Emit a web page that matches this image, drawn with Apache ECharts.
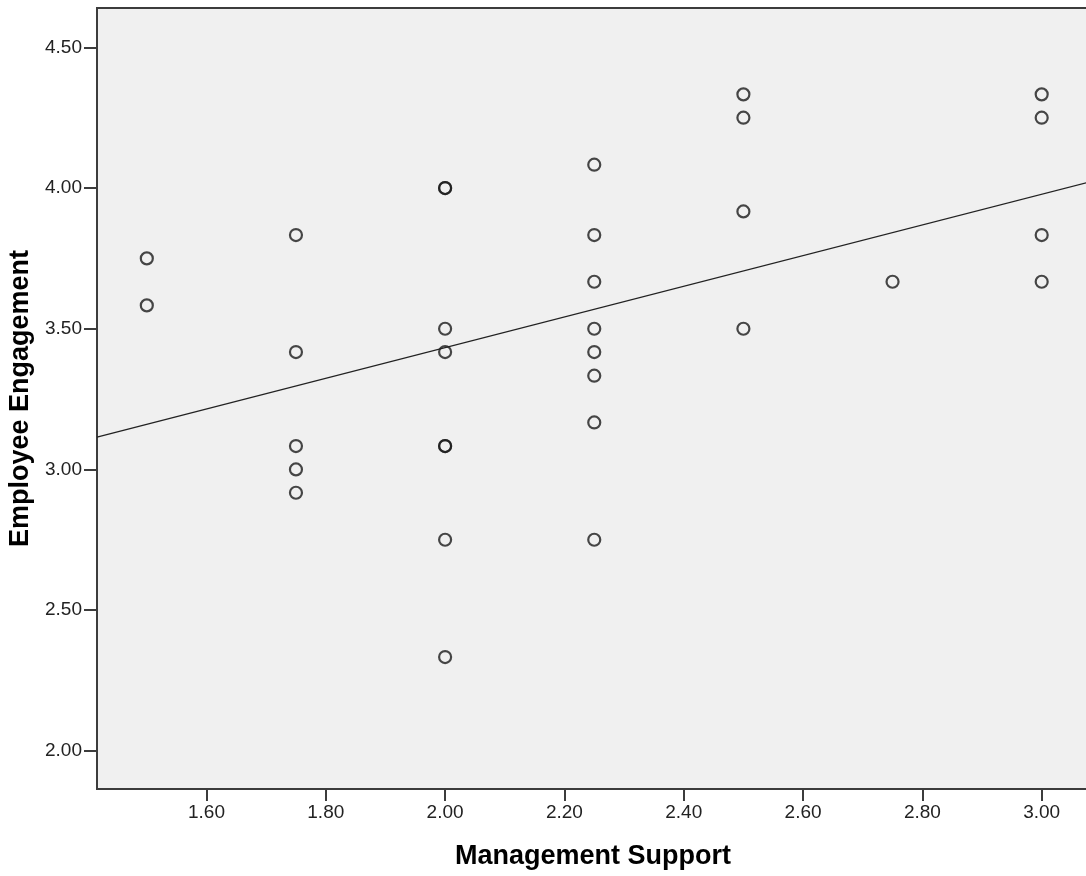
<!DOCTYPE html>
<html>
<head>
<meta charset="utf-8">
<script src="https://cdn.jsdelivr.net/npm/echarts@6/dist/echarts.min.js"></script>
<style>
  html, body { margin: 0; padding: 0; background: #fff; }
  #chart { width: 1086px; height: 876px; }
</style>
</head>
<body>
<div id="chart"></div>
<script>
// management support (x) / employee engagement (y)
const supportVals = [
  1.5, 1.5,
  1.75, 1.75, 1.75, 1.75, 1.75,
  2.0, 2.0, 2.0, 2.0, 2.0, 2.0, 2.0, 2.0,
  2.25, 2.25, 2.25, 2.25, 2.25, 2.25, 2.25, 2.25,
  2.5, 2.5, 2.5, 2.5,
  2.75,
  3.0, 3.0, 3.0, 3.0
]
const engagementVals = [
  3.75, 3.583,
  3.833, 3.417, 3.083, 3.0, 2.917,
  4.0, 4.0, 3.5, 3.417, 3.083, 3.083, 2.75, 2.333,
  4.083, 3.833, 3.667, 3.5, 3.417, 3.333, 3.167, 2.75,
  4.333, 4.25, 3.917, 3.5,
  3.667,
  4.333, 4.25, 3.833, 3.667
]
// fit line end points (x, y)
const fitX = [1.4165, 3.0793]
const fitY = [3.115, 4.021]

const xTicks = [1.6, 1.8, 2.0, 2.2, 2.4, 2.6, 2.8, 3.0]
const yTicks = [2.0, 2.5, 3.0, 3.5, 4.0, 4.5]

const points = supportVals.map((x, i) => [x, engagementVals[i]])
const fitLine = fitX.map((x, i) => [x, fitY[i]])

const chart = echarts.init(document.getElementById('chart'))
const axisColor = '#3c3c3c'
const fontFam = 'Arial, "Liberation Sans"'
const labelFont = { color: '#222', fontFamily: fontFam, fontSize: 19 }
const titleFont = { fontFamily: fontFam, fontWeight: 'bold', fontSize: 27, color: '#000' }

chart.setOption({
  animation: false,
  grid: {
    left: 97,
    top: 8,
    right: -3,
    bottom: 87,
    outerBoundsMode: 'none',
    containLabel: false,
    show: true,
    backgroundColor: '#f0f0f0',
    borderColor: axisColor,
    borderWidth: 2
  },
  xAxis: {
    type: 'value',
    min: 1.4165,
    max: 3.0793,
    splitLine: { show: false },
    axisLine: { show: true, onZero: false, lineStyle: { color: axisColor, width: 2 } },
    axisTick: {
      show: true,
      length: 12,
      lineStyle: { color: axisColor, width: 2 },
      customValues: xTicks
    },
    axisLabel: {
      ...labelFont,
      margin: 14,
      customValues: xTicks,
      formatter: v => v.toFixed(2)
    },
    name: 'Management Support',
    nameLocation: 'middle',
    nameGap: 54,
    nameTextStyle: titleFont
  },
  yAxis: {
    type: 'value',
    min: 1.864,
    max: 4.640,
    splitLine: { show: false },
    axisLine: { show: true, onZero: false, lineStyle: { color: axisColor, width: 2 } },
    axisTick: {
      show: true,
      length: 13,
      lineStyle: { color: axisColor, width: 2 },
      customValues: yTicks
    },
    axisLabel: {
      ...labelFont,
      margin: 15,
      customValues: yTicks,
      formatter: v => v.toFixed(2)
    },
    name: 'Employee Engagement',
    nameLocation: 'middle',
    nameGap: 58,
    nameTextStyle: titleFont
  },
  series: [
    {
      type: 'line',
      data: fitLine,
      symbol: 'none',
      lineStyle: { color: '#222', width: 1.3 },
      silent: true
    },
    {
      type: 'scatter',
      data: points,
      symbol: 'circle',
      symbolSize: 12,
      itemStyle: { color: 'rgba(0,0,0,0)', borderColor: '#1a1a1a', borderWidth: 2.2 }
    }
  ]
})
</script>
</body>
</html>
